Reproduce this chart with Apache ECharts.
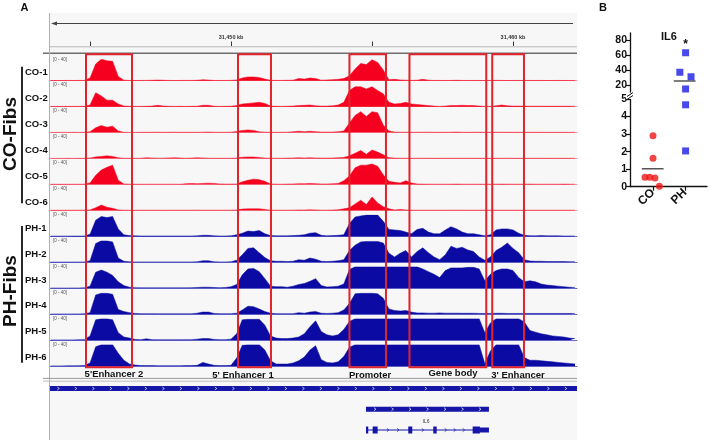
<!DOCTYPE html>
<html><head><meta charset="utf-8">
<script src="https://cdn.jsdelivr.net/npm/echarts@6/dist/echarts.min.js"></script>
<style>html,body{margin:0;padding:0;background:#fff}#c{width:709px;height:440px}</style>
</head><body><div id="c"></div>
<script>
// ---------------- DATA ----------------
const trackNames = ['CO-1','CO-2','CO-3','CO-4','CO-5','CO-6','PH-1','PH-2','PH-3','PH-4','PH-5','PH-6'];
const binStartKb = 31443.6, binSizeKb = 0.2;   // genomic bins (0.2 kb)
const co1 = [0.4,0.4,0.4,0.5,0.4,0.5,0.6,5,31,40, 37,36,8,1,0.5,0.4,0.5,0.6,0.8,1.2, 0.8,0.5,0.4,0.5,0.6,0.5,0.8,1.8,1.2,0.5, 0.4,0.5,0.6,1.5,5,7,7,6,3,0.8, 0.5,0.6,0.8,1,4,3,5,4,1,1.5, 2,2.5,4,9,22,32,30,39,34,20, 2,2.5,1.5,1,0.5,1,2.5,1,0.5,0.5, 0.4,0.5,0.8,0.5,0.4,0.5,0.4,0.4,0.5,0.6, 0.5,0.4,0.4,0.5,0.4,0.5,0.4,0.5,0.4,0.4, 0.5,0.4,0.4,0.4];
const co2 = [0.4,0.4,0.5,0.4,0.5,0.5,0.6,3,26,20, 12,12,5,1,0.6,0.5,0.5,0.6,1,2.5, 1,0.6,0.5,0.6,0.5,0.6,0.8,2.5,2.5,0.8, 0.5,0.6,0.8,2,5,6,7,8,6,1, 0.6,0.5,0.8,1,2,2.5,3,1.5,1,1, 1.5,3,8,30,37,37,33,37,30,24, 8,5,6,8,5,4,3,2,1,0.5, 1,2,2,2.5,2,2,1,0.5,0.5,1.5, 3,1.5,1,1,1,0.8,0.8,0.8,0.7,0.8, 0.7,0.8,0.7,0.7];
const co3 = [0.4,0.4,0.4,0.4,0.5,0.4,0.5,1.5,9,13, 10,12,3,0.5,0.4,0.4,0.5,0.5,0.6,0.8, 0.5,0.6,0.8,0.5,0.6,0.5,0.5,0.8,1,0.6, 0.5,0.6,0.8,2,4,5,4,1.5,0.8,0.6, 0.5,0.6,0.8,1.5,2.5,1.5,2.5,1.5,1,1, 1,1.5,3,18,32,39,30,39,37,14, 3,1,0.8,0.7,0.6,0.6,0.7,0.8,0.6,0.5, 0.6,0.7,1,0.6,0.5,0.6,0.7,0.5,0.5,0.6, 0.7,0.6,0.5,0.6,0.5,0.5,0.6,0.5,0.5,0.5, 0.5,0.5,0.5,0.5];
const co4 = [0.3,0.3,0.3,0.4,0.3,0.4,0.5,1,3,4, 5,4,1.5,0.6,0.5,0.5,0.6,1.5,1,0.6, 0.6,1.2,1.5,1,0.6,0.8,1.5,1,0.6,0.5, 0.5,0.5,0.6,1,2.5,3,3,2,0.8,0.6, 0.5,0.6,0.8,1,1.5,1,1.5,1,0.8,0.8, 1,1.5,2,5,10,15,8,16,12,7, 1.5,0.8,0.6,0.6,0.5,0.6,0.6,0.5,0.5,0.5, 0.6,0.5,0.6,0.5,0.5,0.6,0.5,0.5,0.5,0.5, 0.5,0.6,0.5,0.5,0.5,0.5,0.6,0.5,0.5,0.5, 0.5,0.5,0.5,0.5];
const co5 = [0.4,0.4,0.4,0.4,0.5,0.5,0.6,3,17,27, 32,36,8,1,0.6,0.5,0.5,0.5,0.6,0.5, 0.5,0.6,0.5,0.5,1.5,2,1.5,2,2.5,2, 1,0.8,0.8,1,5,8,10,9,6,1, 0.6,0.5,0.8,1,1.5,1.5,2,1.5,1,1, 1.2,2,7,16,31,36,36,38,34,18, 6,4,3,7,3,1,0.7,0.6,0.6,0.5, 0.6,0.6,0.7,0.6,0.5,0.6,0.5,0.5,0.6,0.6, 0.7,0.6,0.6,0.5,0.6,0.7,0.6,0.5,0.6,0.5, 0.6,0.7,0.5,0.5];
const co6 = [0.4,0.4,0.4,0.4,0.4,0.5,0.5,1,5,10, 6,4,1,0.5,0.5,0.4,0.5,0.5,0.5,0.5, 0.4,0.5,0.5,0.5,0.5,0.5,0.6,0.5,0.5,0.5, 0.5,0.5,0.6,1,2.5,3,3,3,2,0.6, 0.5,0.5,0.5,0.6,1,0.8,1.2,1,0.6,0.6, 0.8,1.2,3,5,12,19,11,25,14,7, 3,1,2,1,0.6,0.5,0.5,0.5,0.5,0.5, 0.5,0.5,0.6,0.5,0.5,0.5,0.5,0.5,0.5,0.5, 0.5,0.5,0.5,0.5,0.5,0.5,0.5,0.5,0.5,0.5, 0.5,0.5,0.5,0.5];
const ph1 = [0.5,0.5,0.5,0.5,0.6,0.6,0.8,4,30,37, 35,37,14,3,1.5,1,0.8,0.8,0.8,0.8, 0.8,0.8,0.8,0.8,0.8,0.8,1,2,2,1, 0.8,0.8,1,3,6,10,9,11,5,1.5, 1,1,1,1.5,2,3,6,7,2,1, 1.5,2,3,24,36,38,40,40,40,28, 13,12,11,8,5,13,15,8,5,5, 12,18,14,8,5,5,3,1,3,12, 14,14,12,6,2,1.2,1,1.5,1,1, 1,0.8,0.8,0.8];
const ph2 = [0.5,0.5,0.5,0.5,0.6,0.6,0.8,3,35,40, 40,38,8,2,1,0.8,0.8,0.8,0.8,0.8, 0.8,0.8,0.8,0.8,0.8,0.8,1,3,3,1, 0.8,0.8,1,4,14,26,27,18,9,3, 2,2,1.5,2,5,4,8,6,2,1.5, 2,3,5,22,32,38,39,39,39,36, 17,10,17,22,10,20,27,18,10,5, 14,30,26,28,23,20,10,4,10,22, 28,36,26,18,5,2.5,2,2,1.5,1.5, 1.5,1.5,1.2,1.2];
const ph3 = [0.5,0.5,0.5,0.5,0.6,0.6,0.8,4,30,34, 30,24,12,5,2,1,0.8,0.8,0.8,0.8, 0.8,0.8,0.8,0.8,0.8,1,1.5,2,2,1.5, 1,1.5,3,7,25,36,37,31,18,4, 3,3,2,4,7,9,13,18,5,2.5, 3,4,8,35,40,40,40,40,40,40, 40,40,40,40,40,40,36,31,26,20, 33,38,38,38,39,39,36,14,26,33, 36,36,33,20,12,14,12,8,6,5, 4,3,2,1.5];
const ph4 = [0.5,0.5,0.5,0.5,0.6,0.6,0.8,3,36,39, 39,37,9,5,3,1.5,1,1,1,0.8, 0.8,0.8,0.8,0.8,0.8,0.8,2,4,4,1.5, 1,1,1,2,8,15,14,10,5,2, 1,1,1,1,3,2,4,5,2,1.5, 2,3,8,20,38,39,39,39,38,30, 10,7,6,7,4,2.5,2.5,2,2,2.5, 2,2,2,1.8,1.8,1.8,1.5,1.5,1.5,1.8, 1.8,1.5,1.5,1.5,1.5,1.5,1.5,1.5,1.5,1.5, 1.5,1.5,1.5,1.5];
const ph5 = [0.5,0.5,0.5,0.6,0.6,0.8,1,8,38,40, 40,38,14,6,4,1.5,1,2.5,1,0.8, 0.8,0.8,0.8,0.8,1,1,2,3,3,1.5, 1,1,2,12,38,39,39,39,28,8, 4,3,3,4,6,12,25,36,16,10, 8,10,20,35,40,40,40,40,40,40, 40,40,40,40,40,40,40,40,40,40, 40,40,40,40,40,40,40,14,32,40, 40,40,40,40,34,18,15,12,10,8, 7,6,4,3];
const ph6 = [0.5,0.5,0.5,0.6,0.6,0.8,1,6,36,40, 40,40,24,11,4,2,1,1,1,0.8, 0.8,0.8,0.8,0.8,1,1,1.5,7,4,1.5, 1,1,1.5,15,39,40,40,40,30,10, 4,4,4,6,10,17,30,38,12,7, 6,8,18,35,40,40,40,40,40,40, 40,40,40,40,40,40,40,40,40,40, 40,40,40,40,40,40,40,5,28,40, 40,40,40,40,16,11,11,10,9,8, 7,6,5,4];

const regionNames   = ["5'Enhancer 2", "5' Enhancer 1", "Promoter", "Gene body", "3' Enhancer"];
const regionStartKb = [31444.857, 31450.247, 31454.20, 31456.328, 31459.264];
const regionEndKb   = [31446.488, 31451.417, 31455.495, 31459.052, 31460.389];
const rulerTicksKb  = [31445, 31450, 31455, 31460];
const rulerLabelsKb = [31450, 31460];
const geneName = 'IL6';
const transcriptStartKb = 31454.786, transcriptEndKb = 31459.147;
const exonStartKb = [31454.786, 31455.023, 31456.286, 31457.172, 31458.569, 31458.828];
const exonEndKb   = [31454.867, 31455.200, 31456.428, 31457.293, 31458.828, 31459.147];
const exonCoding  = [1, 1, 1, 1, 1, 0];

// Panel B
const groups = ['CO', 'PH'];
const coValues = [2.9, 1.62, 0.54, 0.54, 0.5, 0.03];
const coJitter = [1.0, 1.0, 0.75, 0.9, 1.06, 1.2];
const phValues = [63, 37, 31, 14.7, 4.67, 2.04];
const phJitter = [2.02, 1.84, 2.19, 2.02, 2.02, 2.02];
const upperTicks = [20, 40, 60, 80];

// ---------------- CHART ----------------
const FONT = "'Liberation Sans', Arial, sans-serif";
const chart = echarts.init(document.getElementById('c'), null, {renderer: 'canvas', width: 709, height: 440});
const KB_MIN = 31443.58, KB_MAX = 31462.27;
const RED = '#f5001e', BLUE = '#0b0ba3';
const allTracks = [co1, co2, co3, co4, co5, co6, ph1, ph2, ph3, ph4, ph5, ph6];
const grids = [], xAxes = [], yAxes = [], series = [], graphic = [];
const TRACK_H = 21.5, BASE0 = 80.7, PITCH = 25.95;

allTracks.forEach((vals, i) => {
  const base = BASE0 + PITCH * i;
  const isCO = i < 6;
  const col = isCO ? RED : BLUE;
  grids.push({left: 50, width: 527, top: base - TRACK_H, height: TRACK_H});
  xAxes.push({gridIndex: i, type: 'value', min: KB_MIN, max: KB_MAX,
    axisLine: {show: true, lineStyle: {color: isCO ? '#f39aa3' : '#6b6bcc', width: 1.2}},
    axisTick: {show: false}, axisLabel: {show: false}, splitLine: {show: false}});
  yAxes.push({gridIndex: i, type: 'value', min: 0, max: 40, show: false});
  series.push({type: 'line', xAxisIndex: i, yAxisIndex: i, silent: true, animation: false, z: 3,
    data: vals.map((v, k) => [binStartKb + k * binSizeKb, v]),
    symbol: 'none', lineStyle: {width: 0.5, color: col}, areaStyle: {color: col, opacity: 1}});
  graphic.push({type: 'text', x: 25, y: base - 8.4, z: 50,
    style: {text: trackNames[i], font: 'bold 9.5px ' + FONT, fill: '#111', verticalAlign: 'middle'}});
  graphic.push({type: 'text', x: 53, y: base - 21.4, z: 50,
    style: {text: '[0 - 40]', font: '4.5px ' + FONT, fill: '#555', verticalAlign: 'middle'}});
});

// ruler grid (12)
grids.push({left: 50, width: 527, top: 41.5, height: 4.5});
xAxes.push({gridIndex: 12, type: 'value', min: KB_MIN, max: KB_MAX, axisLine: {show: false},
  axisTick: {show: true, inside: true, length: 4.5, customValues: rulerTicksKb, lineStyle: {color: '#333', width: 1}},
  axisLabel: {show: true, inside: true, margin: 5.5, customValues: rulerLabelsKb,
    formatter: v => Math.round(v).toLocaleString('en-US') + ' kb', fontSize: 5.5, fontWeight: 'bold', color: '#333', fontFamily: FONT},
  splitLine: {show: false}});
yAxes.push({gridIndex: 12, type: 'value', min: 0, max: 1, show: false});
series.push({type: 'line', xAxisIndex: 12, yAxisIndex: 12, data: [], silent: true});

// region overlay grid (13)
grids.push({left: 50, width: 527, top: 54.3, height: 313});
xAxes.push({gridIndex: 13, type: 'value', min: KB_MIN, max: KB_MAX, show: false});
yAxes.push({gridIndex: 13, type: 'value', min: 0, max: 1, show: false});
series.push({type: 'custom', xAxisIndex: 13, yAxisIndex: 13, z: 10, silent: true, animation: false,
  data: regionStartKb.map((s, k) => [s, regionEndKb[k]]),
  renderItem: (params, api) => {
    const x1 = api.coord([api.value(0), 0])[0], x2 = api.coord([api.value(1), 0])[0];
    const cs = params.coordSys;
    return {type: 'rect', shape: {x: x1, y: cs.y, width: x2 - x1, height: cs.height},
      style: {fill: 'none', stroke: '#e2232b', lineWidth: 2}};
  }});

// gene grid (14)
grids.push({left: 50, width: 527, top: 400, height: 40});
xAxes.push({gridIndex: 14, type: 'value', min: KB_MIN, max: KB_MAX, show: false});
yAxes.push({gridIndex: 14, type: 'value', min: 0, max: 1, show: false});
const GENE_BLUE = '#1515a8';
series.push({type: 'custom', xAxisIndex: 14, yAxisIndex: 14, z: 5, silent: true, animation: false,
  data: [[transcriptStartKb, transcriptEndKb]],
  renderItem: (params, api) => {
    const x1 = api.coord([api.value(0), 0])[0], x2 = api.coord([api.value(1), 0])[0];
    const top = params.coordSys.y;
    const ch = [];
    ch.push({type: 'rect', shape: {x: x1, y: top + 6.7, width: x2 - x1, height: 5}, style: {fill: GENE_BLUE}});
    for (let cx = x1 + 9; cx < x2 - 3; cx += 17.5) {
      ch.push({type: 'polyline', shape: {points: [[cx - 1, top + 7.7], [cx + 1, top + 9.2], [cx - 1, top + 10.7]]},
        style: {stroke: '#fff', lineWidth: 0.7, fill: null}});
    }
    ch.push({type: 'line', shape: {x1: x1, y1: top + 30, x2: x2, y2: top + 30}, style: {stroke: GENE_BLUE, lineWidth: 1}});
    return {type: 'group', children: ch};
  }});
series.push({type: 'custom', xAxisIndex: 14, yAxisIndex: 14, z: 6, silent: true, animation: false,
  data: exonStartKb.map((s, k) => [s, exonEndKb[k], exonCoding[k], k < exonStartKb.length - 1 ? exonStartKb[k + 1] : exonEndKb[k]]),
  renderItem: (params, api) => {
    const x1 = api.coord([api.value(0), 0])[0], x2 = api.coord([api.value(1), 0])[0];
    const nx = api.coord([api.value(3), 0])[0];
    const top = params.coordSys.y;
    const h = api.value(2) ? 7 : 5;
    const ch = [{type: 'rect', shape: {x: x1, y: top + 30 - h / 2, width: Math.max(1.2, x2 - x1), height: h}, style: {fill: GENE_BLUE}}];
    const gap = nx - x2;
    const n = Math.floor(gap / 11);
    for (let j = 1; j <= n; j++) {
      const cx = x2 + gap * j / (n + 1);
      ch.push({type: 'polyline', shape: {points: [[cx - 1, top + 28.3], [cx + 1, top + 30], [cx - 1, top + 31.7]]},
        style: {stroke: GENE_BLUE, lineWidth: 0.7, fill: null}});
    }
    return {type: 'group', children: ch};
  }});

// Panel B grids (15 upper, 16 lower)
grids.push({left: 630, width: 77, top: 33, height: 59.5});
grids.push({left: 630, width: 77, top: 99, height: 87.7});
const axisLbl = {fontSize: 10.5, fontWeight: 'bold', color: '#111', fontFamily: FONT, margin: 3};
xAxes.push({gridIndex: 15, type: 'value', min: 0.28, max: 2.69, show: false});
xAxes.push({gridIndex: 16, type: 'value', min: 0.28, max: 2.69,
  axisLine: {show: true, onZero: false, lineStyle: {color: '#111', width: 1.3}},
  axisTick: {show: true, customValues: [1, 2], length: 4, lineStyle: {color: '#111', width: 1.2}},
  axisLabel: {show: true, customValues: [1, 2], formatter: v => groups[Math.round(v) - 1], rotate: 45,
    fontSize: 12, fontWeight: 'bold', color: '#111', fontFamily: FONT, margin: 4},
  splitLine: {show: false}});
yAxes.push({gridIndex: 15, type: 'value', min: 10, max: 89.33,
  axisLine: {show: true, lineStyle: {color: '#111', width: 1.3}},
  axisTick: {show: true, customValues: upperTicks, length: 4, lineStyle: {color: '#111', width: 1.2}},
  axisLabel: Object.assign({show: true, customValues: upperTicks}, axisLbl),
  splitLine: {show: false}});
yAxes.push({gridIndex: 16, type: 'value', min: 0, max: 5, interval: 1,
  axisLine: {show: true, lineStyle: {color: '#111', width: 1.3}},
  axisTick: {show: true, length: 4, lineStyle: {color: '#111', width: 1.2}},
  axisLabel: Object.assign({show: true}, axisLbl),
  splitLine: {show: false}});

const BREAK = 5;
function pts(jit, vals, upper) {
  return vals.map((v, k) => [jit[k], v]).filter(p => upper ? p[1] > BREAK : p[1] <= BREAK);
}
const mean = a => a.reduce((s, v) => s + v, 0) / a.length;
const coStyle = {type: 'scatter', symbol: 'circle', symbolSize: 7, itemStyle: {color: '#ee1515'}, clip: false, silent: true, animation: false, z: 6};
const phStyle = {type: 'scatter', symbol: 'rect', symbolSize: 7, itemStyle: {color: '#1a1ae6'}, clip: false, silent: true, animation: false, z: 6};
[15, 16].forEach(gi => {
  const up = gi === 15;
  series.push(Object.assign({xAxisIndex: gi, yAxisIndex: gi, data: pts(coJitter, coValues, up)}, coStyle));
  series.push(Object.assign({xAxisIndex: gi, yAxisIndex: gi, data: pts(phJitter, phValues, up)}, phStyle));
});
[[coValues, 1], [phValues, 2]].forEach(([vals, g]) => {
  const m = mean(vals);
  const gi = m > BREAK ? 15 : 16;
  series.push({type: 'line', xAxisIndex: gi, yAxisIndex: gi, data: [[g - 0.35, m], [g + 0.33, m]],
    symbol: 'none', lineStyle: {color: '#555', width: 1.5}, silent: true, animation: false, z: 5});
});

// ---------------- DECORATIONS ----------------
graphic.push(
  {type: 'rect', shape: {x: 50, y: 13, width: 527, height: 427}, style: {fill: '#f7f7f7'}, z: -10, silent: true},
  {type: 'line', shape: {x1: 55, y1: 23.5, x2: 573, y2: 23.5}, style: {stroke: '#444', lineWidth: 1}, z: 1},
  {type: 'polygon', shape: {points: [[51, 23.5], [57, 21.5], [57, 25.5]]}, style: {fill: '#444'}, z: 1},
  {type: 'line', shape: {x1: 50, y1: 46.8, x2: 577, y2: 46.8}, style: {stroke: '#b8b8b8', lineWidth: 1}, z: 1},
  {type: 'line', shape: {x1: 43, y1: 53.3, x2: 577, y2: 53.3}, style: {stroke: '#6e6e6e', lineWidth: 1.6}, z: 1},
  {type: 'line', shape: {x1: 49.5, y1: 13, x2: 49.5, y2: 440}, style: {stroke: '#b0b0b0', lineWidth: 1}, z: 1},
  {type: 'line', shape: {x1: 43, y1: 378.4, x2: 577, y2: 378.4}, style: {stroke: '#9a9a9a', lineWidth: 1}, z: 1},
  {type: 'line', shape: {x1: 43, y1: 381.2, x2: 577, y2: 381.2}, style: {stroke: '#bdbdbd', lineWidth: 1}, z: 1},
  {type: 'rect', shape: {x: 50, y: 386, width: 527, height: 5}, style: {fill: GENE_BLUE}, z: 1},
  {type: 'text', x: 426, y: 421.8, z: 20, style: {text: geneName, font: '5px ' + FONT, fill: '#333', align: 'center', verticalAlign: 'middle'}},
  // panel letters
  {type: 'text', x: 24.5, y: 7.5, z: 20, style: {text: 'A', font: 'bold 11px ' + FONT, fill: '#111', align: 'center', verticalAlign: 'middle'}},
  {type: 'text', x: 603, y: 7.5, z: 20, style: {text: 'B', font: 'bold 11px ' + FONT, fill: '#111', align: 'center', verticalAlign: 'middle'}},
  // group labels
  {type: 'text', x: 11, y: 134, rotation: Math.PI / 2, z: 20, style: {text: 'CO-Fibs', font: 'bold 19px ' + FONT, fill: '#111', align: 'center', verticalAlign: 'middle'}},
  {type: 'text', x: 11, y: 291, rotation: Math.PI / 2, z: 20, style: {text: 'PH-Fibs', font: 'bold 19px ' + FONT, fill: '#111', align: 'center', verticalAlign: 'middle'}},
  {type: 'line', shape: {x1: 22, y1: 66.7, x2: 22, y2: 203.3}, style: {stroke: '#111', lineWidth: 1.8}, z: 20},
  {type: 'line', shape: {x1: 22, y1: 226, x2: 22, y2: 362.7}, style: {stroke: '#111', lineWidth: 1.8}, z: 20},
  // panel B title & star & break
  {type: 'text', x: 669, y: 37, z: 20, style: {text: 'IL6', font: 'bold 11px ' + FONT, fill: '#111', align: 'center', verticalAlign: 'middle'}},
  {type: 'text', x: 685.5, y: 45, z: 20, style: {text: '*', font: 'bold 12px ' + FONT, fill: '#111', align: 'center', verticalAlign: 'middle'}},
  {type: 'rect', shape: {x: 626, y: 92.6, width: 8, height: 6.2}, style: {fill: '#fff'}, z: 19},
  {type: 'line', shape: {x1: 627, y1: 96.5, x2: 633, y2: 92.5}, style: {stroke: '#111', lineWidth: 1}, z: 20},
  {type: 'line', shape: {x1: 627, y1: 99.5, x2: 633, y2: 95.5}, style: {stroke: '#111', lineWidth: 1}, z: 20}
);
for (let cx = 58.3; cx < 576; cx += 17.5) {
  graphic.push({type: 'polyline', shape: {points: [[cx - 1, 387], [cx + 1, 388.5], [cx - 1, 390]]},
    style: {stroke: '#fff', lineWidth: 0.7, fill: null}, z: 2});
}
// region labels
const regionLabelPos = [[114, 374.8], [243, 375], [370, 375], [453, 373.2], [518, 375]];
regionNames.forEach((t, k) => graphic.push({type: 'text', x: regionLabelPos[k][0], y: regionLabelPos[k][1], z: 20,
  style: {text: t, font: 'bold 9.5px ' + FONT, fill: '#111', align: 'center', verticalAlign: 'middle'}}));

chart.setOption({
  animation: false,
  backgroundColor: '#fff',
  grid: grids, xAxis: xAxes, yAxis: yAxes, series: series, graphic: graphic
});
</script></body></html>
